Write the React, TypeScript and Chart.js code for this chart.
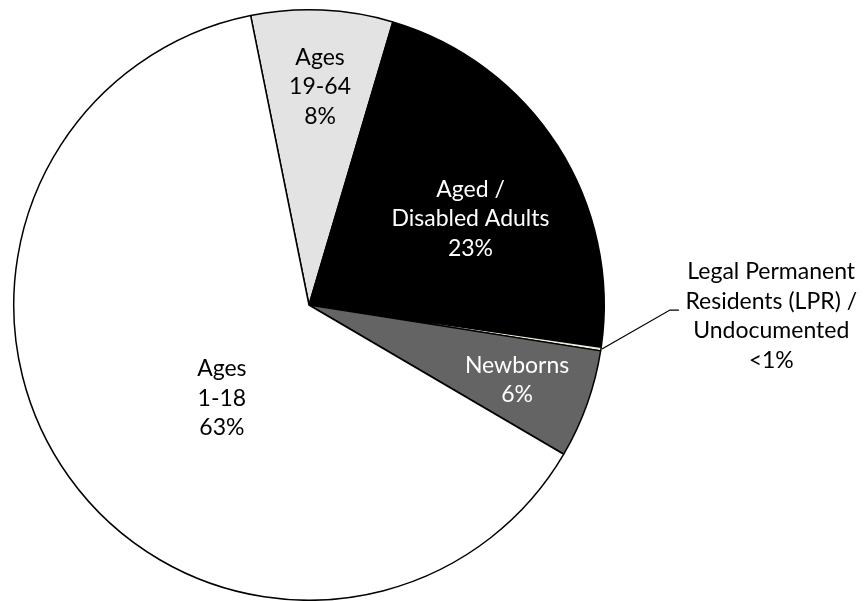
import React, { useEffect, useRef } from 'react';
import { Chart, registerables } from 'chart.js';

Chart.register(...registerables);

// ---- data ----
const categories = [
  'Ages 19-64',
  'Aged / Disabled Adults',
  'Legal Permanent Residents (LPR) / Undocumented',
  'Newborns',
  'Ages 1-18',
];
const shares = [7.75, 22.7, 0.2, 5.95, 63.4];
const pctLabels = ['8%', '23%', '<1%', '6%', '63%'];
const labelLines = [
  ['Ages', '19-64'],
  ['Aged /', 'Disabled Adults'],
  ['Legal Permanent', 'Residents (LPR) /', 'Undocumented'],
  ['Newborns'],
  ['Ages', '1-18'],
];

// ---- styles ----
const sliceColors = ['#e3e3e3', '#000000', '#efebdc', '#646464', '#ffffff'];
const textColors = ['#000000', '#ffffff', '#000000', '#ffffff', '#000000'];
// label placement: angle (deg, clockwise from top) and radius fraction
const labelPlace = [
  { a: 2.9, r: 0.74 },
  { a: 61.9, r: 0.62 },
  { a: 91.4, r: 1.566 },
  { a: 109.8, r: 0.749 },
  { a: 223.1, r: 0.432 },
];
const FONT = '23px Lato';
const LINE_H = 29.5;

const labelPlugin = {
  id: 'sliceLabels',
  afterDatasetsDraw(chart: any) {
    const meta = chart.getDatasetMeta(0);
    const ctx = chart.ctx;
    ctx.save();
    ctx.font = FONT;
    ctx.textAlign = 'center';
    ctx.textBaseline = 'middle';
    meta.data.forEach((arc: any, i: number) => {
      const { x, y, outerRadius, startAngle, endAngle } = arc.getProps(
        ['x', 'y', 'outerRadius', 'startAngle', 'endAngle'],
        true
      );
      const place = labelPlace[i];
      const ang = ((place.a - 90) * Math.PI) / 180;
      const cx = x + Math.cos(ang) * outerRadius * place.r;
      const cy = y + Math.sin(ang) * outerRadius * place.r;
      const lines = [...labelLines[i], pctLabels[i]];
      const top = cy - ((lines.length - 1) * LINE_H) / 2;
      ctx.fillStyle = textColors[i];
      lines.forEach((ln, k) => ctx.fillText(ln, cx, top + k * LINE_H));

      if (i === 2) {
        // leader line from slice edge to label
        const mid = (startAngle + endAngle) / 2;
        const sx = x + Math.cos(mid) * outerRadius;
        const sy = y + Math.sin(mid) * outerRadius;
        const ex = sx + 69;
        const ey = sy - 39;
        ctx.strokeStyle = '#000000';
        ctx.lineWidth = 1.3;
        ctx.beginPath();
        ctx.moveTo(sx + 1, sy);
        ctx.lineTo(ex, ey);
        ctx.lineTo(ex + 9, ey);
        ctx.stroke();
      }
    });
    ctx.restore();
  },
};

export default function App() {
  const ref = useRef<HTMLCanvasElement>(null);
  useEffect(() => {
    if (!ref.current) return;
    const chart = new Chart(ref.current, {
      type: 'pie',
      data: {
        labels: categories,
        datasets: [
          {
            data: shares,
            backgroundColor: sliceColors,
            borderColor: '#000000',
            borderWidth: 1.5,
          },
        ],
      },
      options: {
        responsive: false,
        animation: false,
        rotation: -11.4,
        layout: { padding: { left: 13, right: 260, top: 9, bottom: 0 } },
        plugins: {
          legend: { display: false },
          tooltip: { enabled: false },
          title: { display: false },
        },
      },
      plugins: [labelPlugin],
    });
    return () => chart.destroy();
  }, []);
  return (
    <div style={{ position: 'absolute', left: 0, top: 0, width: 865, height: 601, background: '#fff' }}>
      <canvas ref={ref} width={865} height={601} />
    </div>
  );
}
